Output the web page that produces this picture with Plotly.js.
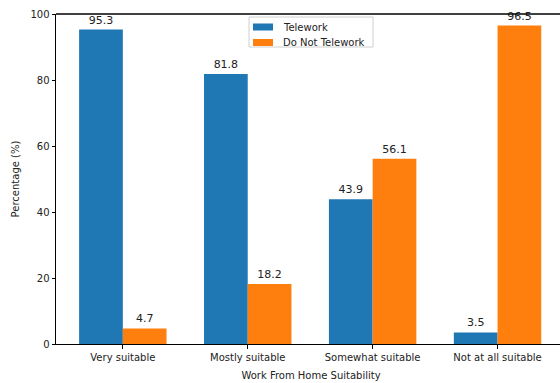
<!DOCTYPE html>
<html>
<head>
<meta charset="utf-8">
<script src="https://cdn.plot.ly/plotly-3.0.1.min.js"></script>
<style>html,body{margin:0;padding:0;background:#fff;overflow:hidden;}#chart{width:560px;height:383px;overflow:hidden;}</style>
</head>
<body>
<div id="chart"></div>
<script>
const categories = ["Very suitable", "Mostly suitable", "Somewhat suitable", "Not at all suitable"];
const seriesNames = ["Telework", "Do Not Telework"];
const telework = [95.3, 81.8, 43.9, 3.5];
const doNotTelework = [4.7, 18.2, 56.1, 96.5];
const yTicks = [0, 20, 40, 60, 80, 100];
const colors = ["#1f77b4", "#ff7f0e"];

const font = {family: "DejaVu Sans", size: 10, color: "#222"};
const labelFont = {family: "DejaVu Sans", size: 11, color: "#222"};
const traces = [telework, doNotTelework].map((vals, i) => ({
  type: "bar", name: seriesNames[i], x: categories, y: vals,
  marker: {color: colors[i], line: {width: 0}}, text: vals.map(v => v.toFixed(1)),
  textposition: "outside", textfont: labelFont, cliponaxis: false, showlegend: false
}));

// full figure is slightly wider than the window (right edge cropped as in the reference)
const W = 566, H = 383, L = 56, T = 14, B = 39, R = 0;
const pw = W - L - R, ph = H - T - B;
const px = x => (x - L) / pw;
const py = y => 1 - (y - T) / ph;
const shapes = [
  {type: "line", xref: "paper", yref: "paper", x0: 0, x1: 1, y0: 1, y1: 1, line: {color: "#000", width: 1.3}},
  {type: "rect", xref: "paper", yref: "paper", x0: px(249), x1: px(373), y0: py(17), y1: py(47),
   line: {color: "#d0d0d0", width: 1}, fillcolor: "rgba(255,255,255,0.8)"}
];
const annotations = [];
seriesNames.forEach((n, i) => {
  const yc = 27 + i * 15.5;
  shapes.push({type: "rect", xref: "paper", yref: "paper", x0: px(253), x1: px(273), y0: py(yc - 3.5), y1: py(yc + 3.5),
    line: {width: 0}, fillcolor: colors[i]});
  annotations.push({xref: "paper", yref: "paper", x: px(281), y: py(yc), xanchor: "left", yanchor: "middle",
    text: n, showarrow: false, font: font});
});

const layout = {
  width: W, height: H,
  margin: {l: L, r: R, t: T, b: B},
  font: font,
  barmode: "group", bargap: 0.3, bargroupgap: 0,
  plot_bgcolor: "#fff", paper_bgcolor: "#fff",
  xaxis: {
    range: [-0.535, 3.548],
    showline: true, linecolor: "#000", linewidth: 1, mirror: false, zeroline: false,
    ticks: "outside", ticklen: 3.5, tickcolor: "#000", showgrid: false,
    title: {text: "Work From Home Suitability", font: font, standoff: 10},
    tickfont: font
  },
  yaxis: {
    range: [0, 100], tickvals: yTicks,
    showline: true, linecolor: "#000", linewidth: 1, mirror: false,
    ticks: "outside", ticklen: 3.5, tickcolor: "#000", showgrid: false, zeroline: false,
    title: {text: "Percentage (%)", font: font, standoff: 8},
    tickfont: font
  },
  shapes: shapes,
  annotations: annotations,
  showlegend: false
};
Plotly.newPlot("chart", traces, layout, {displayModeBar: false, staticPlot: true});
</script>
</body>
</html>
